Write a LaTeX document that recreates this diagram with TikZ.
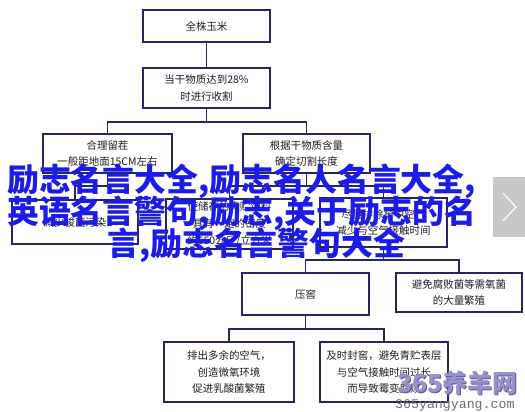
\documentclass[tikz,border=0pt]{standalone}
\usepackage{fontspec}
\usepackage{tikz}
\newfontfamily\cjk{Noto Sans CJK SC}
\newfontfamily\webmono{Liberation Mono}
\definecolor{silageNavy}{RGB}{38,38,98}
\definecolor{silageInk}{RGB}{30,30,30}
\definecolor{silageBlue}{RGB}{28,28,232}
\definecolor{silageGray}{RGB}{200,200,200}
\definecolor{silageLilac}{RGB}{150,145,205}
\definecolor{silagePlum}{RGB}{95,90,150}
\definecolor{silageMark}{RGB}{110,110,110}

\begin{document}
\begin{tikzpicture}[x=1bp,y=-1bp,
    stage/.style={draw=silageNavy,line width=1.3bp,fill=white,text=silageInk,
                  font=\cjk\fontsize{10.5}{17}\selectfont,align=center,
                  minimum width=127bp,inner sep=0pt,outer sep=0pt,anchor=center},
    link/.style={draw=silageNavy,line width=1.3bp},
    banner/.style={text=silageBlue,font=\cjk\bfseries\fontsize{32}{32}\selectfont,
                   inner sep=0pt,anchor=base west}]

  \fill[white] (0,0) rectangle (525,411);
  \useasboundingbox (0,0) rectangle (525,411);

  % flow chart
  \node[stage,minimum height=32bp] (whole) at (206.5,26) {全株玉米};
  \node[stage,minimum height=40bp] (harvest) at (206.5,88)
       {当干物质达到28\%\\时进行收割};
  \node[stage,minimum width=129bp,minimum height=39bp] (stubble) at (107.5,153.5)
       {合理留茬\\一般距地面15CM左右};
  \node[stage,minimum height=39bp] (chop) at (306.5,153.5)
       {根据干物质含量\\确定切割长度};
  \node[stage,minimum width=126bp,minimum height=44bp] (clost) at (75,222)
       {减少梭菌污染};
  \node[stage,minimum height=50bp] (dense) at (229.5,224)
       {使储存的青贮饲料\\具有一定的密度\\约650公斤/立方米};
  \node[stage,minimum height=49bp] (air) at (383.5,222.5)
       {尽量排除窖中空气\\减少与空气接触时间};
  \node[stage,minimum height=42bp] (press) at (305.5,294) {压窖};
  \node[stage,minimum width=126bp,minimum height=39bp] (aerob) at (459,292.5)
       {避免腐败菌等需氧菌\\的大量繁殖};
  \node[stage,minimum width=130bp,minimum height=60bp] (exhaust) at (229,372)
       {排出多余的空气，\\创造微氧环境\\促进乳酸菌繁殖};
  \node[stage,minimum width=128bp,minimum height=60bp] (seal) at (384,372)
       {及时封窖，避免青贮表层\\与空气接触时间过长\\而导致霉变腐败};

  \draw[link] (whole) -- (harvest);
  \draw[link] (harvest.south) -- ++(0,14) -| (stubble.north);
  \draw[link] (harvest.south) -- ++(0,14) -| (chop.north);
  \draw[link] (stubble.south) -- ++(0,13) -| (clost.north);
  \draw[link] (chop.south) -- ++(0,13) -| (dense.north);
  \draw[link] (chop.south) -- ++(0,13) -| (air.north);
  \draw[link] (air.south) -- ++(0,13) -| (press.north);
  \draw[link] (air.south) -- ++(0,13) -| (aerob.north);
  \draw[link] (press.south) -- ++(0,14) -| (exhaust.north);
  \draw[link] (press.south) -- ++(0,14) -| (seal.north);

  % overlay
  \node[banner] (line1) at (7,191) {励志名言大全,励志名人名言大全,};
  \node[banner] (line2) at (7,223) {英语名言警句,励志,关于励志的名};
  \node[banner] (line3) at (107,255) {言,励志名言警句大全};

  \node[fill=silageGray,minimum width=32bp,minimum height=60bp,inner sep=0pt]
       (next) at (509,207) {};
  \draw[white,line width=1.2bp]
       ([xshift=-6bp,yshift=14bp]next.center) -- ([xshift=7bp]next.center)
       -- ([xshift=-6bp,yshift=-14bp]next.center);

  \node[text=silagePlum,font=\cjk\bfseries\fontsize{25}{25}\selectfont,
        inner sep=0pt,anchor=base west] (mark0) at (398.2,393.2) {365养羊网};
  \node[text=silageLilac,font=\cjk\bfseries\fontsize{25}{25}\selectfont,
        inner sep=0pt,anchor=base west] (mark) at (397,392) {365养羊网};
  \node[text=silageMark,font=\webmono\fontsize{13.3}{13.3}\selectfont,
        inner sep=0pt,anchor=base west] (site) at (395,408) {365yangyang.com};
\end{tikzpicture}
\end{document}
